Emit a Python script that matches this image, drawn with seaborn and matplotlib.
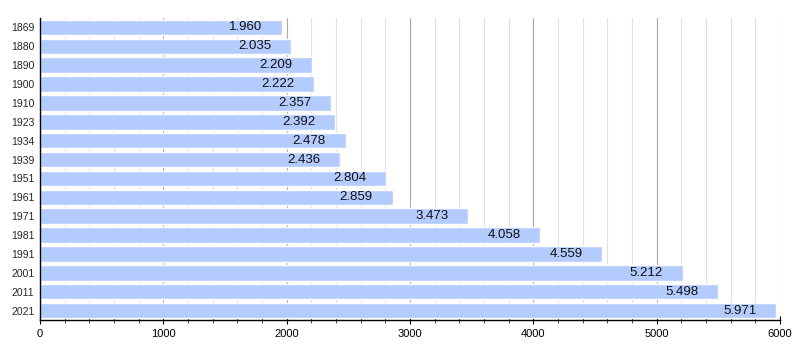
import matplotlib
matplotlib.use("Agg")
import matplotlib.pyplot as plt
import seaborn as sns
import pandas as pd
from matplotlib.ticker import MultipleLocator

years = ["1869", "1880", "1890", "1900", "1910", "1923", "1934", "1939",
         "1951", "1961", "1971", "1981", "1991", "2001", "2011", "2021"]
population = [1960, 2035, 2209, 2222, 2357, 2392, 2478, 2436,
              2804, 2859, 3473, 4058, 4559, 5212, 5498, 5971]

df = pd.DataFrame({"year": years, "pop": population})

sns.set_style("white")
plt.rcParams["font.family"] = ["Liberation Sans", "DejaVu Sans"]

fig = plt.figure(figsize=(8, 3.6), dpi=100)
ax = fig.add_axes([0.05, 0.111, 0.925, 0.839])

sns.barplot(data=df, x="pop", y="year", order=years, orient="h",
            color="#b3cbfd", saturation=1, width=0.82, ax=ax, zorder=2)

for i, v in enumerate(population):
    label = f"{v:,}".replace(",", ".")
    ax.text(v - 160, i, label, ha="right", va="center", fontsize=9.5,
            color="#111111", zorder=3)

ax.set_xlim(0, 6000)
ax.set_ylim(len(years) - 0.5, -0.5)
ax.xaxis.set_major_locator(MultipleLocator(1000))
ax.xaxis.set_minor_locator(MultipleLocator(200))
ax.grid(which="major", axis="x", color="#aaaaaa", lw=0.8, zorder=0)
ax.grid(which="minor", axis="x", color="#e0e0e0", lw=0.8, zorder=0)
ax.set_axisbelow(True)

for s in ["top", "right"]:
    ax.spines[s].set_visible(False)
ax.spines["left"].set_color("black")
ax.spines["bottom"].set_color("black")
ax.spines["left"].set_linewidth(1)
ax.spines["bottom"].set_linewidth(1)

ax.tick_params(axis="x", which="major", direction="inout", length=6, width=0.8,
               labelsize=8, colors="black", bottom=True)
ax.tick_params(axis="x", which="minor", direction="inout", length=4, width=0.6,
               bottom=True)
ax.tick_params(axis="y", length=0, labelsize=7.5, pad=4)
ax.set_xlabel("")
ax.set_ylabel("")

fig.savefig("out.png", dpi=100)
